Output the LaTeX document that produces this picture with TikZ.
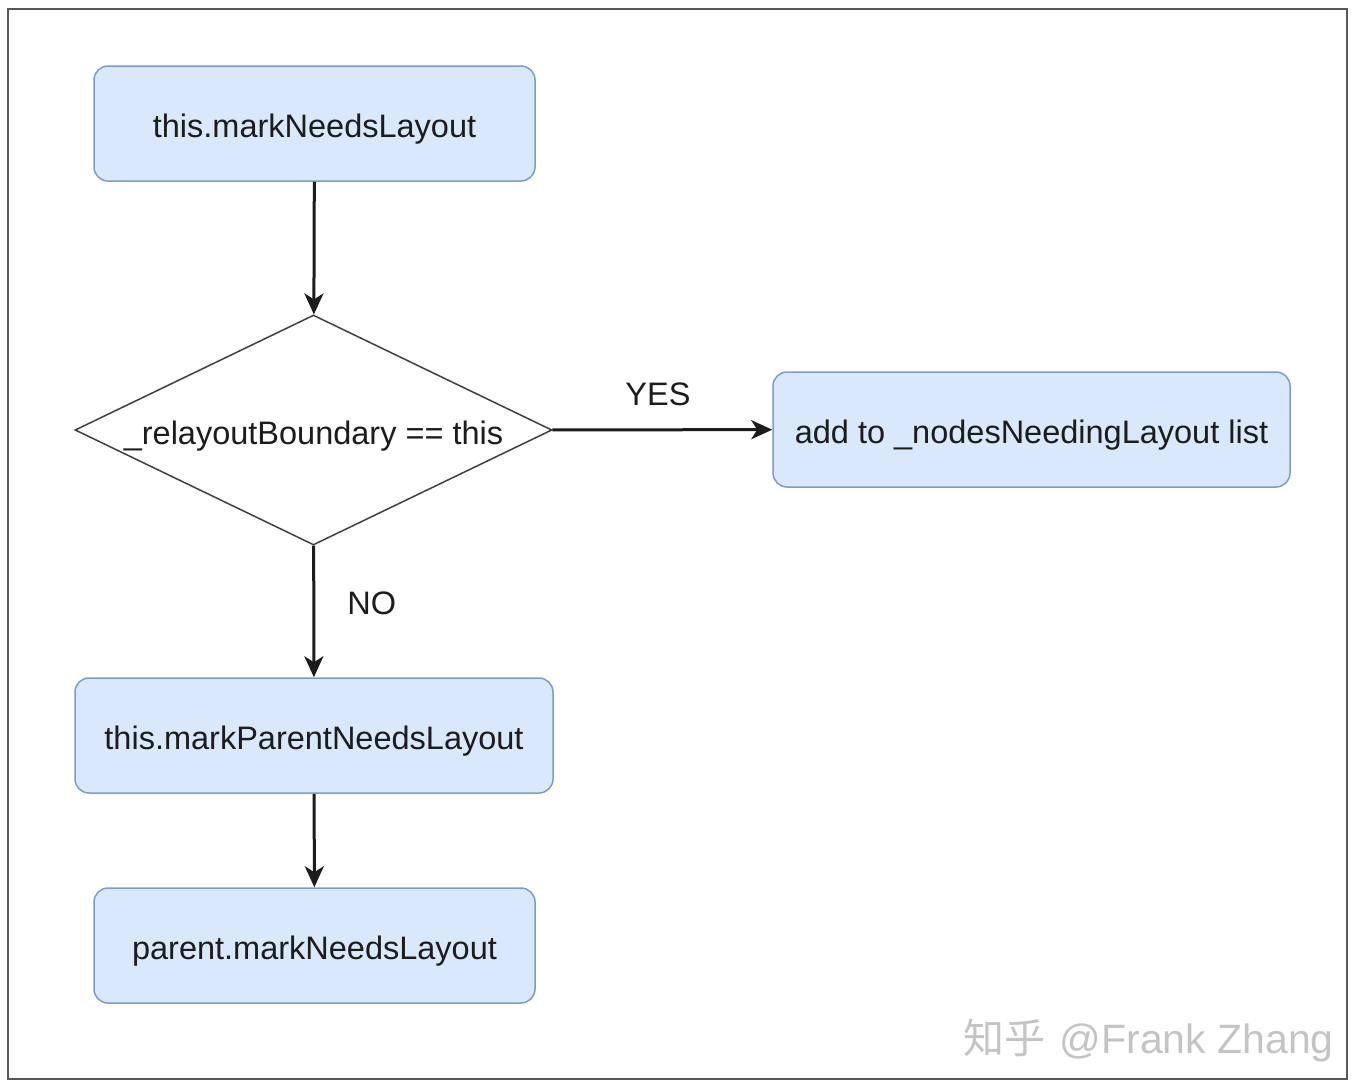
\documentclass[tikz,border=0pt]{standalone}
\usepackage{fontspec}
\setmainfont{Liberation Sans}
\newfontfamily\cjk{Noto Sans CJK SC}
\usetikzlibrary{shapes.geometric,arrows.meta}
\definecolor{boxfill}{HTML}{DAE8FC}
\definecolor{boxline}{HTML}{7D9CCB}
\definecolor{wm}{HTML}{C4C4C4}
\definecolor{ink}{HTML}{1C1C1C}
\tikzset{
  stepbox/.style={draw=boxline,fill=boxfill,line width=1.5pt,rounded corners=14pt,
    minimum height=115pt,inner sep=0pt,text=ink,text height=30pt,text depth=2pt,
    font=\fontsize{32.5}{38}\selectfont},
  decision/.style={draw=black!75,fill=white,line width=1.5pt,diamond,aspect=2.07,
    minimum width=477pt,minimum height=230pt,inner sep=0pt,text=ink,text height=30pt,text depth=2pt,
    font=\fontsize{32.5}{38}\selectfont},
  conn/.style={draw=ink,line width=3pt,-{Stealth[length=21pt,width=19pt,inset=6pt]}},
  lbl/.style={text=ink,font=\fontsize{32.5}{38}\selectfont,inner sep=0pt}
}
\begin{document}
\begin{tikzpicture}[x=1pt,y=-1pt]
\useasboundingbox (0,0) rectangle (1352,1090);
\fill[white] (0,0) rectangle (1352,1090);
\draw[black!65,line width=2.5pt] (8,9) rectangle (1347,1079);
\node[stepbox,minimum width=441pt] (a) at (314.5,123.5) {this.markNeedsLayout};
\node[decision] (d) at (313.5,430) {\_relayoutBoundary == this};
\node[stepbox,minimum width=517pt] (y) at (1031.5,429.5) {add to \_nodesNeedingLayout list};
\node[stepbox,minimum width=478pt] (p) at (314,735.5) {this.markParentNeedsLayout};
\node[stepbox,minimum width=441pt] (q) at (314.5,945.5) {parent.markNeedsLayout};
\draw[conn] (a) -- (d);
\draw[conn] (d) -- node[lbl,above=22pt,pos=0.48] (yes) {YES} (y);
\draw[conn] (d) -- node[lbl,right=32pt,pos=0.44] (no) {NO} (p);
\draw[conn] (p) -- (q);
\node[text=wm,anchor=east,inner sep=0pt,font=\fontsize{41}{46}\selectfont] (w) at (1334,1040) {{\cjk 知乎}\hspace{14pt}@Frank Zhang};
\end{tikzpicture}
\end{document}
